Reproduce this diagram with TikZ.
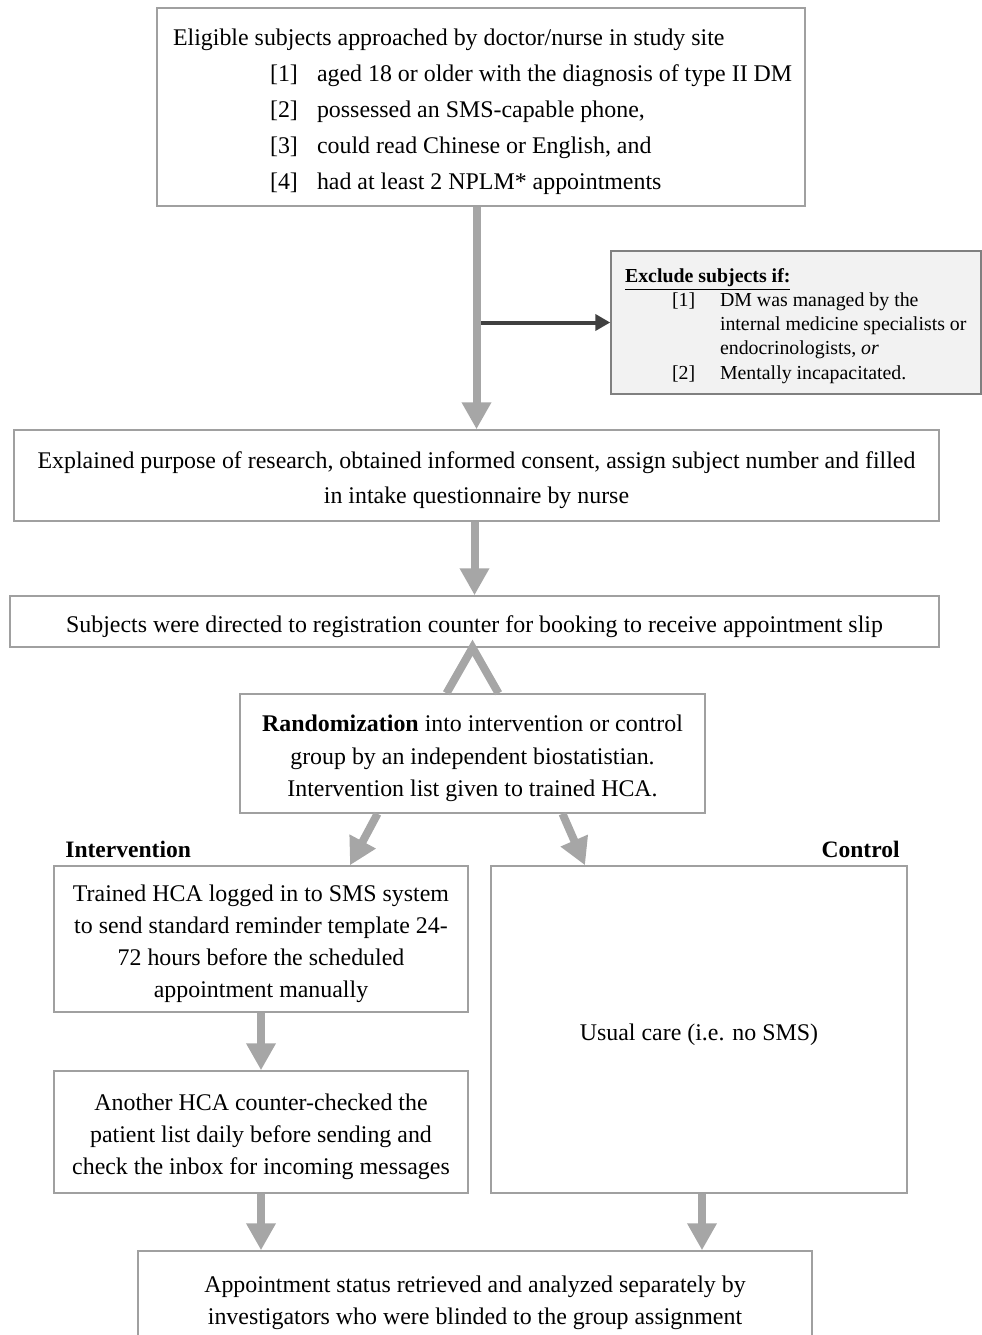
\documentclass[tikz,border=0pt]{standalone}
\usepackage{fontspec}
\setmainfont{Liberation Serif}
\usetikzlibrary{arrows.meta}

\definecolor{boxline}{RGB}{160,160,160}
\definecolor{arrowgray}{RGB}{166,166,166}
\definecolor{exdark}{RGB}{64,64,64}
\definecolor{exfill}{RGB}{242,242,242}
\definecolor{exline}{RGB}{128,128,128}

\begin{document}
\begin{tikzpicture}[x=0.02cm, y=-0.02cm, line join=miter]

    % ================= 1. styles =================
    \tikzset{
        box/.style={draw=boxline, line width=0.03cm, fill=white, inner sep=0pt, align=flush center,
            execute at begin node={\rule{0pt}{15pt}}},
        exbox/.style={draw=exline, fill=exfill, line width=0.03cm, inner sep=0pt, align=flush left,
            execute at begin node={\rule{0pt}{12pt}}},
        flow/.style={draw=arrowgray, line width=0.16cm, -{Triangle[length=0.54cm, width=0.56cm]}},
        exarrow/.style={draw=exdark, line width=0.08cm, -{Triangle[length=0.3cm, width=0.32cm]}},
        grp/.style={font=\fontsize{13.4}{15}\selectfont\bfseries, inner sep=0pt}
    }

    \useasboundingbox (0,0) rectangle (982,1335);
    \clip (0,0) rectangle (982,1335);

    % ================= 2. eligibility and exclusion =================
    \node[box, minimum width=12.96cm, minimum height=3.96cm, text width=12.8cm, align=flush left,
        font=\fontsize{13.6}{20.5}\selectfont] (elig) at (481,107) {%
        \leftskip=0.24cm
        Eligible subjects approached by doctor/nurse in study site\\
        \hspace*{1.94cm}\makebox[0.94cm][l]{[1]}aged 18 or older with the diagnosis of type II DM\\
        \hspace*{1.94cm}\makebox[0.94cm][l]{[2]}possessed an SMS-capable phone,\\
        \hspace*{1.94cm}\makebox[0.94cm][l]{[3]}could read Chinese or English, and\\
        \hspace*{1.94cm}\makebox[0.94cm][l]{[4]}had at least 2 NPLM* appointments\par};

    \node[exbox, minimum width=7.4cm, minimum height=2.86cm, text width=7.2cm,
        font=\fontsize{11.3}{13.7}\selectfont] (excl) at (796,322.5) {%
        \leftskip=0.18cm
        \textbf{\underline{Exclude subjects if:}}\\
        \hspace*{0.94cm}\makebox[0.96cm][l]{[1]}DM was managed by the\\
        \hspace*{1.9cm}internal medicine specialists or\\
        \hspace*{1.9cm}endocrinologists, \textit{or}\\
        \hspace*{0.94cm}\makebox[0.96cm][l]{[2]}Mentally incapacitated.\par};

    % ================= 3. consent and registration =================
    \node[box, minimum width=18.5cm, minimum height=1.82cm, text width=18.3cm,
        font=\fontsize{13.6}{19.9}\selectfont] (consent) at (476.5,475.5) {%
        Explained purpose of research, obtained informed consent, assign subject number and filled\\
        in intake questionnaire by nurse};

    \node[box, minimum width=18.58cm, minimum height=1.02cm, font=\fontsize{13.6}{15}\selectfont]
        (regist) at (474.5,621.5) {%
        Subjects were directed to registration counter for booking to receive appointment slip};

    \node[box, minimum width=9.3cm, minimum height=2.38cm, text width=9.1cm,
        font=\fontsize{13.6}{18.5}\selectfont] (rand) at (472.5,753.5) {%
        \textbf{Randomization} into intervention or control\\
        group by an independent biostatistian.\\
        Intervention list given to trained HCA.};

    % ================= 4. the two groups =================
    \node[grp, anchor=west] (lblint) at (65,849) {Intervention};
    \node[grp, anchor=east] (lblctl) at (900,849) {Control};

    \node[box, minimum width=8.28cm, minimum height=2.92cm, text width=8.08cm,
        font=\fontsize{13.6}{18.2}\selectfont] (intv1) at (261,939) {%
        Trained HCA logged in to SMS system\\
        to send standard reminder template 24-\\
        72 hours before the scheduled\\
        appointment manually};

    \node[box, minimum width=8.28cm, minimum height=2.44cm, text width=8.08cm,
        font=\fontsize{13.6}{18.2}\selectfont] (intv2) at (261,1132) {%
        Another HCA counter-checked the\\
        patient list daily before sending and\\
        check the inbox for incoming messages};

    \node[box, minimum width=8.32cm, minimum height=6.54cm, font=\fontsize{13.6}{15}\selectfont]
        (ctrl) at (699,1029.5) {Usual care (i.e. no SMS)};

    \node[box, minimum width=13.48cm, minimum height=1.86cm, text width=13.28cm,
        font=\fontsize{13.6}{18.2}\selectfont] (outcome) at (475,1297.5) {%
        Appointment status retrieved and analyzed separately by\\
        investigators who were blinded to the group assignment};

    % ================= 5. connectors =================
    \draw[exarrow] (consent.north |- excl.west) -- (excl.west);
    \draw[flow] (consent.north |- elig.south) -- (consent.north);
    \draw[flow] (consent.south -| regist.north) -- (regist.north);
    \draw[draw=arrowgray, line width=0.16cm] ([xshift=-0.52cm]rand.north) -- (regist.south -| rand.north) -- ([xshift=0.52cm]rand.north);
    \draw[flow] ([xshift=-1.9cm]rand.south) -- ([xshift=1.78cm]intv1.north);
    \draw[flow] ([xshift=1.8cm]rand.south) -- ([xshift=-2.28cm]ctrl.north);
    \draw[flow] (intv1.south) -- (intv2.north);
    \draw[flow] (intv2.south) -- (intv2.south |- outcome.north);
    \draw[flow] ([xshift=0.06cm]ctrl.south) -- ([xshift=0.06cm]ctrl.south |- outcome.north);

\end{tikzpicture}
\end{document}
